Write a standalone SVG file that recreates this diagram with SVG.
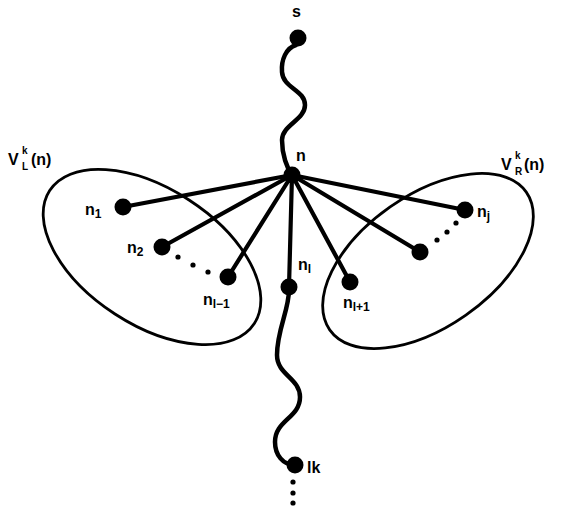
<svg xmlns="http://www.w3.org/2000/svg" width="561" height="510" viewBox="0 0 561 510">
<style>
.e{fill:none;stroke:#000;stroke-width:2.8}
.w{fill:none;stroke:#000;stroke-width:4.5;stroke-linecap:round}
.s{stroke:#000;stroke-width:4.2;stroke-linecap:round}
.d{fill:#000}
.t{font-family:"Liberation Sans",Arial,sans-serif;font-weight:bold;font-size:16px;fill:#000}
.b{font-family:"Liberation Sans",Arial,sans-serif;font-weight:bold;font-size:12px;fill:#000}
.v{font-family:"Liberation Sans",Arial,sans-serif;font-weight:bold;font-size:10px;fill:#000}
</style>
<rect width="561" height="510" fill="#fff"/>
<g id="sets">
<ellipse class="e" cx="152" cy="257" rx="122" ry="68" transform="rotate(33 152 257)"/>
<ellipse class="e" cx="428" cy="261" rx="120" ry="66" transform="rotate(-35 428 261)"/>
</g>
<g id="connectors">
<path class="w" d="M296,45 C286,48 281,60 282,72 C283,88 305,90 305,105 C305,120 282,125 282,140 C282,155 287,168 292,175"/>
<path class="w" d="M289,290 C289,310 277,330 277,355 C277,375 300,378 300,397 C300,418 275,420 275,442 C275,455 283,465 295,465"/>
<line class="s" x1="292" y1="175" x2="123" y2="207"/>
<line class="s" x1="292" y1="175" x2="162" y2="247"/>
<line class="s" x1="292" y1="175" x2="228" y2="277"/>
<line class="s" x1="292" y1="175" x2="289" y2="287"/>
<line class="s" x1="292" y1="175" x2="350" y2="282"/>
<line class="s" x1="292" y1="175" x2="420" y2="252"/>
<line class="s" x1="292" y1="175" x2="465" y2="210"/>
<circle class="d" cx="178" cy="257" r="2.6"/>
<circle class="d" cx="193" cy="265" r="2.6"/>
<circle class="d" cx="208" cy="272" r="2.6"/>
<circle class="d" cx="437" cy="240" r="2.6"/>
<circle class="d" cx="447" cy="232" r="2.6"/>
<circle class="d" cx="456" cy="223" r="2.6"/>
<circle class="d" cx="293" cy="482" r="2.6"/>
<circle class="d" cx="293" cy="493" r="2.6"/>
<circle class="d" cx="293" cy="503" r="2.6"/>
</g>
<g id="node-s"><circle class="d" cx="298" cy="38" r="8.5"/><text class="t" x="292" y="17">s</text></g>
<g id="node-n"><circle class="d" cx="292" cy="175" r="8.5"/><text class="t" x="296" y="161">n</text></g>
<g id="node-n1"><circle class="d" cx="123" cy="207" r="8.5"/><text class="t" x="85" y="215">n<tspan class="b" dy="3">1</tspan></text></g>
<g id="node-n2"><circle class="d" cx="162" cy="247" r="8.5"/><text class="t" x="127" y="253">n<tspan class="b" dy="3">2</tspan></text></g>
<g id="node-nl-1"><circle class="d" cx="228" cy="277" r="8.5"/><text class="t" x="203" y="305">n<tspan class="b" dy="3">l−1</tspan></text></g>
<g id="node-nl"><circle class="d" cx="289" cy="287" r="8.5"/><text class="t" x="298" y="270">n<tspan class="b" dy="3">l</tspan></text></g>
<g id="node-nl+1"><circle class="d" cx="350" cy="282" r="8.5"/><text class="t" x="343" y="308">n<tspan class="b" dy="3">l+1</tspan></text></g>
<g id="node-nm"><circle class="d" cx="420" cy="252" r="8.5"/></g>
<g id="node-nj"><circle class="d" cx="465" cy="210" r="8.5"/><text class="t" x="477" y="217">n<tspan class="b" dy="3">j</tspan></text></g>
<g id="node-lk"><circle class="d" cx="295" cy="465" r="8.5"/><text class="t" x="307" y="473">lk</text></g>
<g id="label-VL"><text class="t" x="8" y="165">V</text><text class="v" x="22" y="154">k</text><text class="v" x="22" y="170">L</text><text class="t" x="31" y="165">(n)</text></g>
<g id="label-VR"><text class="t" x="501" y="170">V</text><text class="v" x="515" y="159">k</text><text class="v" x="515" y="175">R</text><text class="t" x="524" y="170">(n)</text></g>
</svg>
